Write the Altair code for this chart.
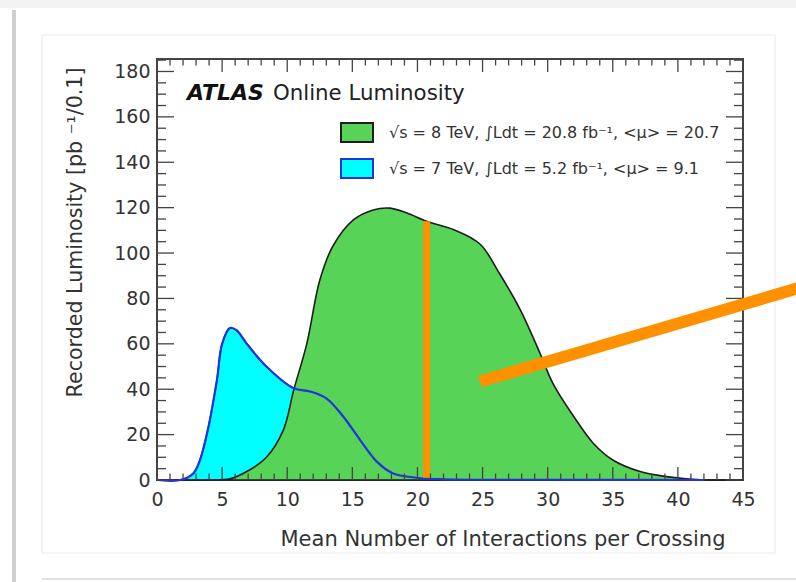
import altair as alt
import pandas as pd

# Mean number of interactions per crossing (x) and recorded luminosity (y)
mu_7tev = [0, 1.8, 2.8, 3.3, 3.9, 4.6, 5.0, 5.6, 6.1, 6.9, 8.4, 10.5, 11.75, 13.0,
           14.3, 15.6, 16.9, 18.1, 19.9, 22, 30, 42]
lumi_7tev = [0, 0, 3, 8.8, 22, 44, 60, 67, 66, 60, 50, 40.4, 39, 36,
             28, 17.6, 8, 3, 1, 0.3, 0.1, 0]

mu_8tev = [0, 4, 5.6, 7.1, 8.4, 9.7, 10.5, 11.5, 12.5, 13.5, 15.1, 16.6, 17.9, 19.2,
           20.7, 22.8, 24.8, 26.3, 27.9, 29.4, 30.4, 32.0, 33.5, 35.0, 37.1, 39.1, 42, 45]
lumi_8tev = [0, 0, 0.5, 4.4, 10, 22, 39.7, 60, 88, 103, 114.7, 119, 119.8, 117.6,
             114, 110.3, 104, 91, 75, 56, 42.6, 28, 16.2, 8.8, 3.7, 1.5, 0, 0]

label_8tev = "√s = 8 TeV, ∫Ldt = 20.8 fb⁻¹, <μ> = 20.7"
label_7tev = "√s = 7 TeV, ∫Ldt = 5.2 fb⁻¹, <μ> =  9.1"

# Mean pile-up marker for 2012 and the callout pointer
mean_mu = [20.7]
mean_mu_top = [114]
mean_mu_bottom = [1]
pointer_mu = [24.8, 50.0]
pointer_lumi = [43.4, 85.8]

# Tick positions (ROOT style, drawn inside the frame)
x_major = [0, 5, 10, 15, 20, 25, 30, 35, 40, 45]
x_minor = [v for v in range(0, 46) if v % 5 != 0]
y_major = [0, 20, 40, 60, 80, 100, 120, 140, 160, 180]
y_minor = [v for v in range(0, 186, 5) if v % 20 != 0]

W, H = 586, 421
PAD_L, PAD_T, PAD_R, PAD_B = 157, 59, 53, 102
FONT = "DejaVu Sans"
GREEN = "#57d357"
CYAN = "#00ffff"
BLUE = "#2233dd"
DARK = "#1e1e1e"
ORANGE = "#ff9000"
FRAME = "#444444"
INTERP = "catmull-rom"

df7 = pd.DataFrame({"mu": mu_7tev, "lumi": lumi_7tev, "run": label_7tev})
df8 = pd.DataFrame({"mu": mu_8tev, "lumi": lumi_8tev, "run": label_8tev})

xscale = alt.Scale(domain=[0, 45], nice=False, zero=False)
yscale = alt.Scale(domain=[0, 185.5], nice=False, zero=False)

x_axis = alt.Axis(
    values=x_major, format="d", ticks=False, tickSize=0, domain=False, grid=False,
    labelFont=FONT, labelFontSize=19, labelColor="#333333", labelPadding=10,
    labelFlush=False, labelOverlap=False,
    titleFont=FONT, titleFontSize=21, titleFontWeight="normal", titleColor="#333333",
    titleAlign="right", titleAnchor="end", titleX=568, titleY=65,
    titleBaseline="alphabetic",
)
y_axis = alt.Axis(
    values=y_major, format="d", ticks=False, tickSize=0, domain=False, grid=False,
    labelFont=FONT, labelFontSize=19, labelColor="#333333", labelPadding=7,
    labelFlush=False, labelOverlap=False,
    titleFont=FONT, titleFontSize=20.6, titleFontWeight="normal", titleColor="#333333",
    titleAngle=270, titleAlign="right", titleAnchor="end", titleX=-76, titleY=8,
    titleBaseline="alphabetic",
)

X_TITLE = "Mean Number of Interactions per Crossing"
Y_TITLE = "Recorded Luminosity [pb ⁻¹/0.1]"


def xenc(field):
    return alt.X(field, type="quantitative", scale=xscale, axis=x_axis, title=X_TITLE)


def yenc(field):
    return alt.Y(field, type="quantitative", scale=yscale, axis=y_axis, title=Y_TITLE)


fill_scale = alt.Scale(domain=[label_8tev, label_7tev], range=[GREEN, CYAN])
stroke_scale = alt.Scale(domain=[label_8tev, label_7tev], range=[DARK, BLUE])

legend = alt.Legend(
    title=None, orient="none", legendX=183, legendY=56.5, padding=0,
    symbolType="M-1,-0.6H1V0.6H-1Z", symbolSize=1024, symbolStrokeWidth=2,
    labelFont=FONT, labelFontSize=16, labelColor="#333333", labelLimit=600,
    labelOffset=15, rowPadding=5,
)


def filled(df):
    return alt.Chart(df).mark_area(interpolate=INTERP, strokeWidth=1.6,
                                   fillOpacity=1).encode(
        x=xenc("mu"), y=yenc("lumi"),
        fill=alt.Fill("run:N", scale=fill_scale, legend=legend),
        stroke=alt.Stroke("run:N", scale=stroke_scale, legend=legend),
    )


area7 = filled(df7)
area8 = filled(df8)

line7 = alt.Chart(df7).mark_line(interpolate=INTERP, color=BLUE,
                                 strokeWidth=2.2).encode(x=xenc("mu"), y=yenc("lumi"))

mean_df = pd.DataFrame({"mu": mean_mu, "top": mean_mu_top, "bottom": mean_mu_bottom})
mean_rule = alt.Chart(mean_df).mark_rule(color=ORANGE, strokeWidth=7).encode(
    x=xenc("mu"), y=yenc("bottom"), y2="top:Q")

pointer_df = pd.DataFrame({"mu": pointer_mu, "lumi": pointer_lumi})
pointer = alt.Chart(pointer_df).mark_line(color=ORANGE, strokeWidth=12,
                                          strokeCap="butt", clip=False).encode(
    x=xenc("mu"), y=yenc("lumi"))

# Inward tick marks on all four sides of the frame
xmaj = pd.DataFrame({"mu": x_major})
xmin = pd.DataFrame({"mu": x_minor})
ymaj = pd.DataFrame({"lumi": y_major})
ymin = pd.DataFrame({"lumi": y_minor})


def xticks(df, length):
    base = alt.Chart(df).mark_rule(color=FRAME, strokeWidth=1.3)
    top = base.encode(x=xenc("mu"), y=alt.value(0), y2=alt.value(length))
    bottom = base.encode(x=xenc("mu"), y=alt.value(H - length), y2=alt.value(H))
    return top + bottom


def yticks(df, length):
    base = alt.Chart(df).mark_rule(color=FRAME, strokeWidth=1.3)
    left = base.encode(y=yenc("lumi"), x=alt.value(0), x2=alt.value(length))
    right = base.encode(y=yenc("lumi"), x=alt.value(W - length), x2=alt.value(W))
    return left + right


ticks = xticks(xmaj, 13) + xticks(xmin, 6.5) + yticks(ymaj, 17) + yticks(ymin, 9)

atlas = alt.Chart().mark_text(
    text="ATLAS", font=FONT, fontSize=22, fontWeight="bold", fontStyle="italic",
    color="#111111", align="left", baseline="alphabetic",
).encode(x=alt.value(30), y=alt.value(41))
online = alt.Chart().mark_text(
    text="Online Luminosity", font=FONT, fontSize=21.3, color="#222222",
    align="left", baseline="alphabetic",
).encode(x=alt.value(116), y=alt.value(41))

# Slide card around the figure: faint top band, left drop shadow, inner panel border
top_band = alt.Chart().mark_rect(color="#f3f3f3", clip=False).encode(
    x=alt.value(-PAD_L), x2=alt.value(W + PAD_R), y=alt.value(-PAD_T), y2=alt.value(8 - PAD_T))
shadow = alt.Chart().mark_rect(color="#c4c4c4", opacity=0.8, clip=False).encode(
    x=alt.value(12 - PAD_L), x2=alt.value(16 - PAD_L), y=alt.value(10 - PAD_T),
    y2=alt.value(H + PAD_B))
panel = alt.Chart().mark_rect(fill=None, stroke="#ececec", strokeWidth=1.2, clip=False).encode(
    x=alt.value(42 - PAD_L), x2=alt.value(775 - PAD_L), y=alt.value(35 - PAD_T),
    y2=alt.value(553 - PAD_T))
bottom_line = alt.Chart().mark_rule(color="#e2e2e2", strokeWidth=2, clip=False).encode(
    x=alt.value(42 - PAD_L), x2=alt.value(W + PAD_R), y=alt.value(579 - PAD_T))

chart = alt.layer(
    top_band, shadow, panel, bottom_line,
    area7, area8, line7, mean_rule, ticks, atlas, online, pointer
).properties(
    width=W, height=H,
    autosize=alt.AutoSizeParams(type="none"),
    padding={"left": PAD_L, "top": PAD_T, "right": PAD_R, "bottom": PAD_B},
    background="white",
).configure_view(
    stroke=FRAME, strokeWidth=2
)

chart.save("out.html", embed_options={"renderer": "svg", "actions": False})
